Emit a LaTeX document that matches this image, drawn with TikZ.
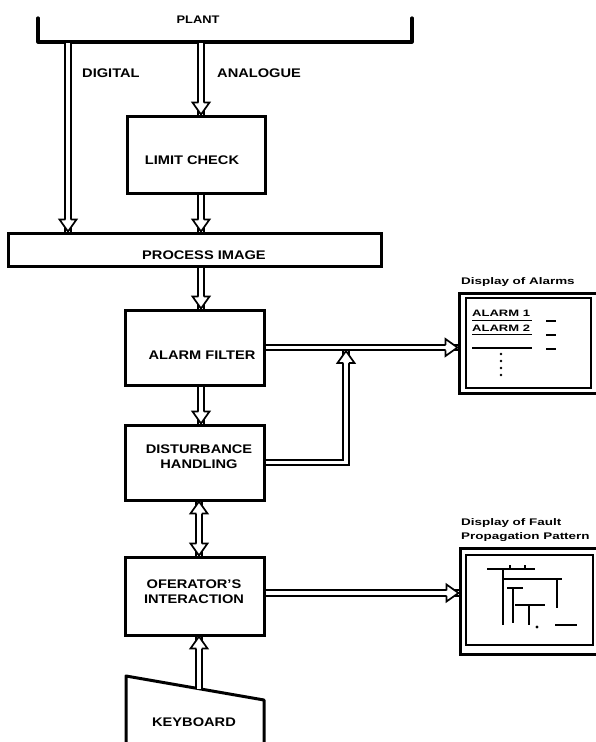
\documentclass[tikz,border=0pt]{standalone}
\usepackage{fontspec}
\setmainfont{Liberation Sans}[FakeStretch=1.17]
\newfontfamily\widefont{Liberation Sans}[FakeStretch=1.4]
\usetikzlibrary{arrows.meta,decorations.markings}
\newcommand\hollowtip{%
  \fill[white] (-12pt,-8.5pt) -- (0pt,0pt) -- (-12pt,8.5pt) -- cycle;
  \draw[line width=1.7pt, line join=miter] (-12pt,-2.75pt) -- (-12pt,-8.5pt) -- (0pt,0pt) -- (-12pt,8.5pt) -- (-12pt,2.75pt);}
\begin{document}
\begin{tikzpicture}[x=1pt,y=-1pt,
  box/.style={draw, line width=3pt, inner sep=0pt},
  boxtext/.style={font=\fontsize{12.5}{15}\selectfont\bfseries, align=center, inner sep=0pt},
  smalltext/.style={font=\widefont\fontsize{9.6}{14.5}\selectfont\bfseries, align=left, inner sep=0pt},
  tinytext/.style={font=\widefont\fontsize{9.3}{11}\selectfont\bfseries, inner sep=0pt},
  shaft/.style={double, line width=1.7pt, double distance=3.8pt},
  flow/.style={shaft, postaction={decorate}, decoration={markings, mark=at position 1 with {\hollowtip}}},
  flowboth/.style={shaft, postaction={decorate}, decoration={markings,
      mark=at position 0 with {\begin{scope}[xscale=-1]\hollowtip\end{scope}},
      mark=at position 1 with {\hollowtip}}},
  screen/.style={draw, line width=3pt, inner sep=0pt},
  screenin/.style={draw, line width=1.6pt, inner sep=0pt},
  pat/.style={line width=2.2pt},
]
\useasboundingbox (0,0) rectangle (596,742);

% Plant bracket
\draw[line width=3.2pt, line cap=round, line join=round] (38,18) -- (38,42) -- (412,42) -- (412,18);
\node[font=\fontsize{11}{13}\selectfont\bfseries, inner sep=0pt] (plant) at (198,20) {PLANT};
\coordinate (dtop) at (68,43);
\coordinate (atop) at (201,43);

% Boxes
\node[box, minimum width=138pt, minimum height=77pt] (limit) at (196,154.5) {};
\node[boxtext] (limitt) at (192,160) {LIMIT CHECK};
\node[box, minimum width=373pt, minimum height=33pt] (proc) at (194.5,249.5) {};
\node[boxtext] (proct) at (204,255) {PROCESS IMAGE};
\node[box, minimum width=139pt, minimum height=75pt] (alarm) at (194.5,347.5) {};
\node[boxtext] (alarmt) at (202,355) {ALARM FILTER};
\node[box, minimum width=139pt, minimum height=75pt] (dist) at (194.5,462.5) {};
\node[boxtext] (distt) at (199,457) {DISTURBANCE\\HANDLING};
\node[box, minimum width=139pt, minimum height=78pt] (oper) at (194.5,596) {};
\node[boxtext] (opert) at (194,592) {OFERATOR'S\\INTERACTION};
\draw[line width=3pt, line join=round] (126,748) -- (126,676) -- (264,700) -- (264,748);
\coordinate (kbtop) at (199,689);
\node[boxtext] (kbt) at (194,722) {KEYBOARD};

% Labels on the inputs
\node[boxtext, anchor=west] (digl) at (82,73) {DIGITAL};
\node[boxtext, anchor=west] (anal) at (217,73) {ANALOGUE};

% Flows
\draw[flow] (dtop) -- (dtop |- proc.north);
\draw[flow] (atop) -- (atop |- limit.north);
\draw[flow] (atop |- limit.south) -- (atop |- proc.north);
\draw[flow] (atop |- proc.south) -- (atop |- alarm.north);
\draw[flow] (atop |- alarm.south) -- (atop |- dist.north);
\draw[flowboth] (kbtop |- dist.south) -- (kbtop |- oper.north);
\draw[flow] (kbtop) -- (kbtop |- oper.south);

% Display of alarms
\node[screen, minimum width=146pt, minimum height=100pt] (disp1) at (532,343) {};
\node[screenin, minimum width=125pt, minimum height=90pt] (disp1in) at (528.5,343) {};
\node[smalltext, anchor=west] (lbl1) at (461,282) {Display of Alarms};
\node[tinytext, anchor=base west] (a1) at (472,316) {ALARM 1};
\node[tinytext, anchor=base west] (a2) at (472,331) {ALARM 2};
\draw[line width=1.4pt] (472,320.5) -- (532,320.5);
\draw[line width=1.4pt] (472,334.5) -- (532,334.5);
\draw[line width=1.4pt] (472,348) -- (532,348);
\draw[line width=2.2pt] (546,321) -- (556,321);
\draw[line width=2.2pt] (546,335) -- (556,335);
\draw[line width=2.2pt] (546,349) -- (556,349);
\foreach \yy in {354,361,368,375} \fill (501,\yy) circle (1.3pt);

% Display of fault propagation pattern
\node[screen, minimum width=146pt, minimum height=106pt] (disp2) at (533,601) {};
\node[screenin, minimum width=127pt, minimum height=90pt] (disp2in) at (529.5,600) {};
\node[smalltext, anchor=west] (lbl2) at (461,530) {Display of Fault\\Propagation Pattern};
\draw[pat] (487,569) -- (535,569);
\draw[pat] (510,565) -- (510,569);
\draw[pat] (525,565) -- (525,569);
\draw[pat] (503,569) -- (503,625);
\draw[pat] (503,579) -- (562,579);
\draw[pat] (557,579) -- (557,608);
\draw[pat] (507,588) -- (523,588);
\draw[pat] (513,588) -- (513,623);
\draw[pat] (515,605) -- (545,605);
\draw[pat] (529,605) -- (529,625);
\fill (537,627) circle (1.6pt);
\draw[pat] (555,625) -- (577,625);

% Outputs to displays
\coordinate (join) at (346,351);
\coordinate (opy) at (0,593);
\draw[flow] (alarm.east) -- (alarm.east -| disp1.west);
\draw[flow] (dist.east) -| (join);
\draw[flow] (oper.east |- opy) -- (disp2.west |- opy);
\end{tikzpicture}
\end{document}
